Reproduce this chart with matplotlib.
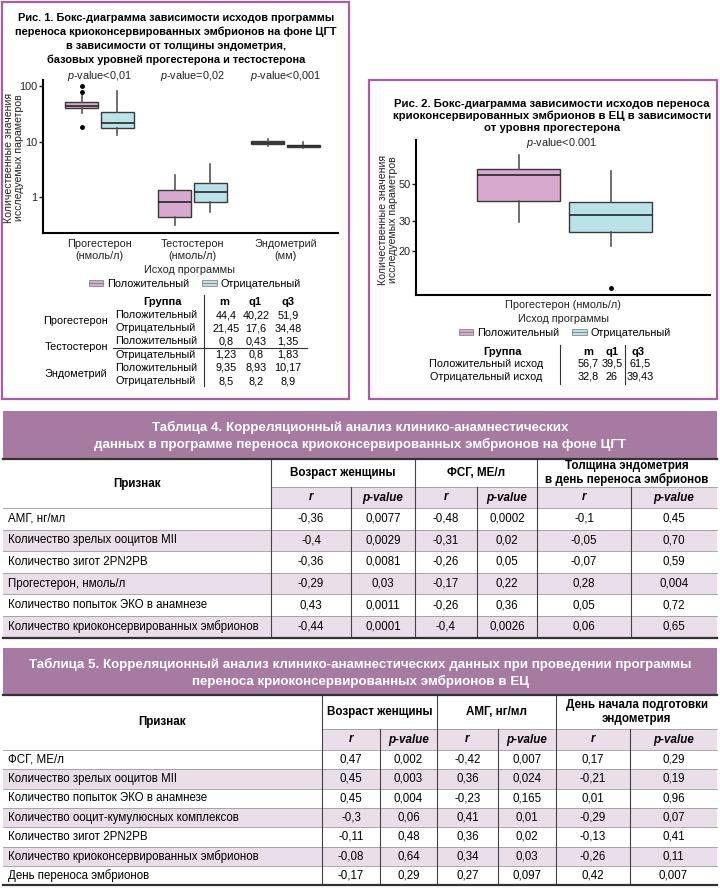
import matplotlib
matplotlib.use("Agg")
import matplotlib.pyplot as plt
from matplotlib import font_manager
from matplotlib.patches import Rectangle, Patch
from matplotlib.lines import Line2D
from matplotlib.legend_handler import HandlerTuple
from matplotlib.ticker import NullLocator, FixedLocator, FixedFormatter

W, H = 720, 890

# ---------- Рис. 1 ----------
groups1 = ["Прогестерон\n(нмоль/л)", "Тестостерон\n(нмоль/л)", "Эндометрий\n(мм)"]
pvals1 = ["<0,01", "=0,02", "<0,001"]
pos_med = [44.4, 0.8, 9.35]
pos_q1 = [40.22, 0.43, 8.93]
pos_q3 = [51.9, 1.35, 10.17]
pos_lo = [32.5, 0.31, 8.3]
pos_hi = [69, 2.5, 11.4]
pos_out = [[100, 79, 18.5], [], []]
neg_med = [21.45, 1.23, 8.5]
neg_q1 = [17.6, 0.8, 8.2]
neg_q3 = [34.48, 1.83, 8.9]
neg_lo = [13.1, 0.54, 7.8]
neg_hi = [82, 4.0, 9.9]
neg_out = [[], [], []]

t1_params = ["Прогестерон", "Тестостерон", "Эндометрий"]
t1_groups = ["Положительный", "Отрицательный"] * 3
t1_m = ["44,4", "21,45", "0,8", "1,23", "9,35", "8,5"]
t1_q1 = ["40,22", "17,6", "0,43", "0,8", "8,93", "8,2"]
t1_q3 = ["51,9", "34,48", "1,35", "1,83", "10,17", "8,9"]

# ---------- Рис. 2 ----------
f2_med = [56.7, 32.8]
f2_q1 = [39.5, 26]
f2_q3 = [61.5, 39.43]
f2_lo = [29.9, 21.4]
f2_hi = [75, 60]
f2_out = [[], [12]]
t2_groups = ["Положительный исход", "Отрицательный исход"]
t2_m = ["56,7", "32,8"]
t2_q1 = ["39,5", "26"]
t2_q3 = ["61,5", "39,43"]

# ---------- Таблица 4 ----------
t4_rows = ["АМГ, нг/мл", "Количество зрелых ооцитов MII", "Количество зигот 2PN2PB",
           "Прогестерон, нмоль/л", "Количество попыток ЭКО в анамнезе",
           "Количество криоконсервированных эмбрионов"]
t4_heads = ["Возраст женщины", "ФСГ, МЕ/л", "Толщина эндометрия\nв день переноса эмбрионов"]
t4_age_r = ["-0,36", "-0,4", "-0,36", "-0,29", "0,43", "-0,44"]
t4_age_p = ["0,0077", "0,0029", "0,0081", "0,03", "0,0011", "0,0001"]
t4_fsh_r = ["-0,48", "-0,31", "-0,26", "-0,17", "-0,26", "-0,4"]
t4_fsh_p = ["0,0002", "0,02", "0,05", "0,22", "0,36", "0,0026"]
t4_end_r = ["-0,1", "-0,05", "-0,07", "0,28", "0,05", "0,06"]
t4_end_p = ["0,45", "0,70", "0,59", "0,004", "0,72", "0,65"]

# ---------- Таблица 5 ----------
t5_rows = ["ФСГ, МЕ/л", "Количество зрелых ооцитов MII", "Количество попыток ЭКО в анамнезе",
           "Количество ооцит-кумулюсных комплексов", "Количество зигот 2PN2PB",
           "Количество криоконсервированных эмбрионов", "День переноса эмбрионов"]
t5_heads = ["Возраст женщины", "АМГ, нг/мл", "День начала подготовки\nэндометрия"]
t5_age_r = ["0,47", "0,45", "0,45", "-0,3", "-0,11", "-0,08", "-0,17"]
t5_age_p = ["0,002", "0,003", "0,004", "0,06", "0,48", "0,64", "0,29"]
t5_amg_r = ["-0,42", "0,36", "-0,23", "0,41", "0,36", "0,34", "0,27"]
t5_amg_p = ["0,007", "0,024", "0,165", "0,01", "0,02", "0,03", "0,097"]
t5_day_r = ["0,17", "-0,21", "0,01", "-0,29", "-0,13", "-0,26", "0,42"]
t5_day_p = ["0,29", "0,19", "0,96", "0,07", "0,41", "0,11", "0,007"]

PINK = "#D7A9CF"
BLUE = "#B9E3E9"
BORDER = "#A65FA0"
BAND = "#A77BA1"
LAV = "#E9DEE9"

names = {f.name for f in font_manager.fontManager.ttflist}
narrow = "Liberation Sans Narrow" if "Liberation Sans Narrow" in names else "Liberation Sans"
plt.rcParams["font.family"] = ["Liberation Sans", "DejaVu Sans"]
plt.rcParams["mathtext.fontset"] = "custom"
plt.rcParams["mathtext.rm"] = "Liberation Sans"
plt.rcParams["mathtext.it"] = "Liberation Sans:italic"

fig = plt.figure(figsize=(W / 100, H / 100), dpi=100)
bg = fig.add_axes([0, 0, 1, 1], zorder=0)
bg.set_xlim(0, W)
bg.set_ylim(H, 0)
bg.axis("off")


def px_rect(l, t, r, b):
    return [l / W, 1 - b / H, (r - l) / W, (b - t) / H]


def style_box(ax, res, colors):
    for b, c in zip(res["boxes"], colors):
        b.set_facecolor(c)


box_kw = dict(patch_artist=True, showcaps=False,
              boxprops=dict(edgecolor="#3a3a3a", linewidth=1.0),
              medianprops=dict(color="#262626", linewidth=1.2),
              whiskerprops=dict(color="#555555", linewidth=1.2),
              flierprops=dict(marker="o", markersize=2.5, markerfacecolor="k", markeredgecolor="k"))


def style_axes(ax):
    for s in ["top", "right"]:
        ax.spines[s].set_visible(False)
    for s in ["left", "bottom"]:
        ax.spines[s].set_linewidth(1.5)
    ax.set_facecolor("none")
    ax.yaxis.set_minor_locator(NullLocator())
    ax.tick_params(axis="y", length=3, width=1, labelsize=7.8, pad=1, colors="#222")
    ax.tick_params(axis="x", length=0, labelsize=7.8, pad=4, colors="#222")


def legend_at(x, y):
    hs = []
    for c in (PINK, BLUE):
        hs.append((Patch(facecolor=c, edgecolor="#888", lw=0.6),
                   Line2D([0], [0], color="#888", lw=0.7)))
    fig.legend(hs, ["Положительный", "Отрицательный"], loc="center", ncol=2,
               bbox_to_anchor=(x / W, 1 - y / H), frameon=False, fontsize=7.8,
               handler_map={tuple: HandlerTuple(ndivide=1)},
               handlelength=1.3, handleheight=0.55, handletextpad=0.4, columnspacing=1.2)


# ---------- panel 1 ----------
bg.add_patch(Rectangle((2, 2), 347, 397, fill=False, ec=BORDER, lw=1.6))
title1 = ["Рис. 1. Бокс-диаграмма зависимости исходов программы",
          "переноса криоконсервированных эмбрионов на фоне ЦГТ",
          "в зависимости от толщины эндометрия,",
          "базовых уровней прогестерона и тестостерона"]
for i, line in enumerate(title1):
    bg.text(176, 18 + i * 13.8, line, ha="center", va="center", fontsize=7.95, fontweight="bold")

ax1 = fig.add_axes(px_rect(43, 80, 338, 233), zorder=2)
stats, positions, colors = [], [], []
for i in range(3):
    stats.append(dict(med=pos_med[i], q1=pos_q1[i], q3=pos_q3[i], whislo=pos_lo[i],
                      whishi=pos_hi[i], fliers=pos_out[i]))
    stats.append(dict(med=neg_med[i], q1=neg_q1[i], q3=neg_q3[i], whislo=neg_lo[i],
                      whishi=neg_hi[i], fliers=neg_out[i]))
    positions += [i + 1 - 0.19, i + 1 + 0.19]
    colors += [PINK, BLUE]
res = ax1.bxp(stats, positions=positions, widths=0.355, **box_kw)
style_box(ax1, res, colors)
ax1.set_yscale("log")
ax1.set_ylim(0.224, 131)
ax1.set_xlim(0.392, 3.565)
style_axes(ax1)
ax1.yaxis.set_major_locator(FixedLocator([1, 10, 100]))
ax1.yaxis.set_major_formatter(FixedFormatter(["1", "10", "100"]))
ax1.set_xticks([1, 2, 3])
ax1.set_xticklabels(groups1, linespacing=1.3)
for i, p in enumerate(pvals1):
    bg.text(99.5 + 93 * i, 76, "$p$-value" + p, ha="center", va="center", fontsize=7.8, color="#222")
bg.text(14.5, 158, "Количественные значения\nисследуемых параметров", rotation=90,
        ha="center", va="center", fontsize=7.6, linespacing=1.0, color="#222")
bg.text(190, 270, "Исход программы", ha="center", va="center", fontsize=7.8, color="#222")
legend_at(195, 284)

# table of fig 1
bg.text(163, 302, "Группа", ha="center", va="center", fontsize=8, fontweight="bold")
for x, h in zip([224, 255, 288], ["m", "q1", "q3"]):
    bg.text(x, 302, h, ha="center", va="center", fontsize=8, fontweight="bold")
for i in range(6):
    y = 315 + i * 13.2
    bg.text(156, y, t1_groups[i], ha="center", va="center", fontsize=7.8)
    bg.text(226, y, t1_m[i], ha="center", va="center", fontsize=7.8)
    bg.text(256, y, t1_q1[i], ha="center", va="center", fontsize=7.8)
    bg.text(288, y, t1_q3[i], ha="center", va="center", fontsize=7.8)
for i, p in enumerate(t1_params):
    bg.text(76, 321 + i * 26.4, p, ha="center", va="center", fontsize=7.8)
bg.plot([204, 204], [295, 386], color="#333", lw=0.8)
bg.plot([113, 307], [347.5, 347.5], color="#333", lw=0.8)

# ---------- panel 2 ----------
bg.add_patch(Rectangle((369, 80), 348, 319, fill=False, ec=BORDER, lw=1.6))
title2 = ["Рис. 2. Бокс-диаграмма зависимости исходов переноса",
          "криоконсервированных эмбрионов в ЕЦ в зависимости",
          "от уровня прогестерона"]
for i, line in enumerate(title2):
    bg.text(552, 104 + i * 12, line, ha="center", va="center", fontsize=8.2, fontweight="bold")

ax2 = fig.add_axes(px_rect(416, 140, 710, 295), zorder=2)
stats2 = [dict(med=f2_med[i], q1=f2_q1[i], q3=f2_q3[i], whislo=f2_lo[i], whishi=f2_hi[i],
               fliers=f2_out[i]) for i in range(2)]
res2 = ax2.bxp(stats2, positions=[0.5, 1.5], widths=0.9, **box_kw)
style_box(ax2, res2, [PINK, BLUE])
ax2.set_yscale("log")
ax2.set_ylim(10.9, 92)
ax2.set_xlim(-0.614, 2.58)
style_axes(ax2)
ax2.yaxis.set_major_locator(FixedLocator([20, 30, 50]))
ax2.yaxis.set_major_formatter(FixedFormatter(["20", "30", "50"]))
ax2.set_xticks([])
bg.text(562, 143, "$p$-value<0.001", ha="center", va="center", fontsize=7.8, color="#222")
bg.text(388, 220, "Количественные значения\nисследуемых параметров", rotation=90,
        ha="center", va="center", fontsize=7.6, linespacing=1.0, color="#222")
bg.text(563, 305, "Прогестерон (нмоль/л)", ha="center", va="center", fontsize=7.8, color="#222")
bg.text(563, 319, "Исход программы", ha="center", va="center", fontsize=7.8, color="#222")
legend_at(565, 333)
bg.text(502, 352, "Группа", ha="center", va="center", fontsize=8, fontweight="bold")
for x, h in zip([588, 612, 638], ["m", "q1", "q3"]):
    bg.text(x, 352, h, ha="center", va="center", fontsize=8, fontweight="bold")
for i in range(2):
    y = 364 + i * 12.5
    bg.text(486, y, t2_groups[i], ha="center", va="center", fontsize=7.8)
    bg.text(588, y, t2_m[i], ha="center", va="center", fontsize=7.8)
    bg.text(612, y, t2_q1[i], ha="center", va="center", fontsize=7.8)
    bg.text(640, y, t2_q3[i], ha="center", va="center", fontsize=7.8)
bg.plot([560, 560], [345, 384], color="#333", lw=0.8)
bg.plot([624.5, 624.5], [345, 384], color="#333", lw=0.8)

# ---------- tables ----------
if narrow == "Liberation Sans Narrow":
    fs_title, fs_head, fs_cell = 11.0, 9.5, 9.5
else:
    fs_title, fs_head, fs_cell = 9.6, 8.4, 8.3


def draw_table(top, band_h, grp_h, sub_h, row_h, title, heads, xs, rows, cols):
    left, right = 3, 717
    bg.add_patch(Rectangle((left, top), right - left, band_h, color=BAND, lw=0))
    for i, line in enumerate(title):
        bg.text(360, top + band_h / 2 + (i - 0.5) * 17 + 1, line, ha="center", va="center",
                color="white", fontsize=fs_title, fontweight="bold", family=narrow)
    y0 = top + band_h
    ys = y0 + grp_h + sub_h
    bottom = ys + row_h * len(rows)
    bg.add_patch(Rectangle((xs[1], y0 + grp_h), right - xs[1], sub_h, color=LAV, lw=0))
    for i in range(len(rows)):
        if i % 2 == 1:
            bg.add_patch(Rectangle((left, ys + i * row_h), right - left, row_h, color=LAV, lw=0))
    bg.text((left + xs[1]) / 2, y0 + (grp_h + sub_h) / 2, "Признак", ha="center", va="center",
            fontsize=fs_head, fontweight="bold", family=narrow)
    for k, h in enumerate(heads):
        bg.text((xs[1 + 2 * k] + xs[3 + 2 * k]) / 2, y0 + grp_h / 2, h, ha="center", va="center",
                fontsize=fs_head, fontweight="bold", family=narrow, linespacing=1.15)
    for k in range(6):
        cx = (xs[1 + k] + xs[2 + k]) / 2
        bg.text(cx, y0 + grp_h + sub_h / 2, "r" if k % 2 == 0 else "p-value", ha="center",
                va="center", fontsize=fs_head, fontweight="bold", style="italic", family=narrow)
    for i, r in enumerate(rows):
        cy = ys + (i + 0.5) * row_h
        bg.text(left + 5, cy, r, ha="left", va="center", fontsize=fs_cell, family=narrow)
        for k in range(6):
            cx = (xs[1 + k] + xs[2 + k]) / 2
            bg.text(cx, cy, cols[k][i], ha="center", va="center", fontsize=fs_cell, family=narrow)
        if i < len(rows) - 1:
            bg.plot([left, right], [ys + (i + 1) * row_h] * 2, color="#9a9a9a", lw=0.6)
    bg.plot([xs[1], right], [y0 + grp_h] * 2, color="#9a9a9a", lw=0.6)
    bg.plot([left, right], [ys, ys], color="#9a9a9a", lw=0.6)
    for k in (1, 3, 5):
        bg.plot([xs[k], xs[k]], [y0, bottom], color="#444", lw=0.8)
    for k in (2, 4, 6):
        bg.plot([xs[k], xs[k]], [y0 + grp_h, bottom], color="#444", lw=0.8)
    bg.plot([left, right], [y0, y0], color="#333", lw=1.6)
    bg.plot([left, right], [bottom, bottom], color="#333", lw=1.6)


draw_table(411, 48, 28, 21, 21.6,
           ["Таблица 4. Корреляционный анализ клинико-анамнестических",
            "данных в программе переноса криоконсервированных эмбрионов на фоне ЦГТ"],
           t4_heads, [3, 271, 351, 415, 477, 537, 631, 717], t4_rows,
           [t4_age_r, t4_age_p, t4_fsh_r, t4_fsh_p, t4_end_r, t4_end_p])

draw_table(648, 47, 34, 21, 19.3,
           ["Таблица 5. Корреляционный анализ клинико-анамнестических данных при проведении программы",
            "переноса криоконсервированных эмбрионов в ЕЦ"],
           t5_heads, [3, 322, 380, 437, 498, 556, 630, 717], t5_rows,
           [t5_age_r, t5_age_p, t5_amg_r, t5_amg_p, t5_day_r, t5_day_p])

fig.savefig("out.png", dpi=100)
